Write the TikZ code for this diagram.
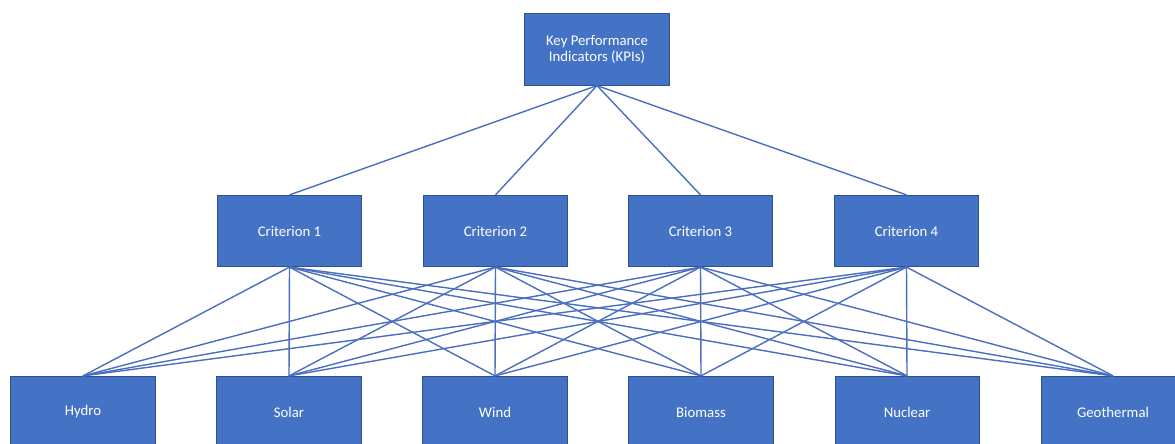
\documentclass[tikz,border=0pt]{standalone}
\usepackage{fontspec}
\setmainfont{Carlito}
\usepackage{xcolor}
\usepackage{tikz}
\definecolor{boxblue}{HTML}{4472C4}
\definecolor{boxedge}{HTML}{2F528F}
\definecolor{linkblue}{HTML}{4A6FC0}

\begin{document}
\begin{tikzpicture}[x=0.025cm, y=-0.025cm,
  block/.style={fill=boxblue, draw=boxedge, line width=0.7pt,
                minimum width=3.6cm, minimum height=1.78cm, align=center,
                text=white, font=\fontsize{10.5}{11.5}\selectfont},
  link/.style={draw=linkblue, line width=1pt}]
\useasboundingbox (0,0) rectangle (1175,444);

% goal
\node[block] (kpi) at (597,49.5) {Key Performance\\Indicators (KPIs)};

% criteria
\foreach \i/\x in {1/289.5, 2/495.5, 3/700.5, 4/906.5}
  \node[block] (c\i) at (\x,231) {Criterion \i};

% alternatives
\foreach \n/\x/\t in {1/83/Hydro, 2/289/Solar, 3/495/Wind,
                      4/701/Biomass, 5/907/Nuclear, 6/1113/Geothermal}
  \node[block] (a\n) at (\x,412) {\t};

% links
\foreach \i in {1,...,4}
  \draw[link] (kpi.south) -- (c\i.north);
\foreach \i in {1,...,4}
  \foreach \n in {1,...,6}
    \draw[link] (c\i.south) -- (a\n.north);
\end{tikzpicture}
\end{document}
